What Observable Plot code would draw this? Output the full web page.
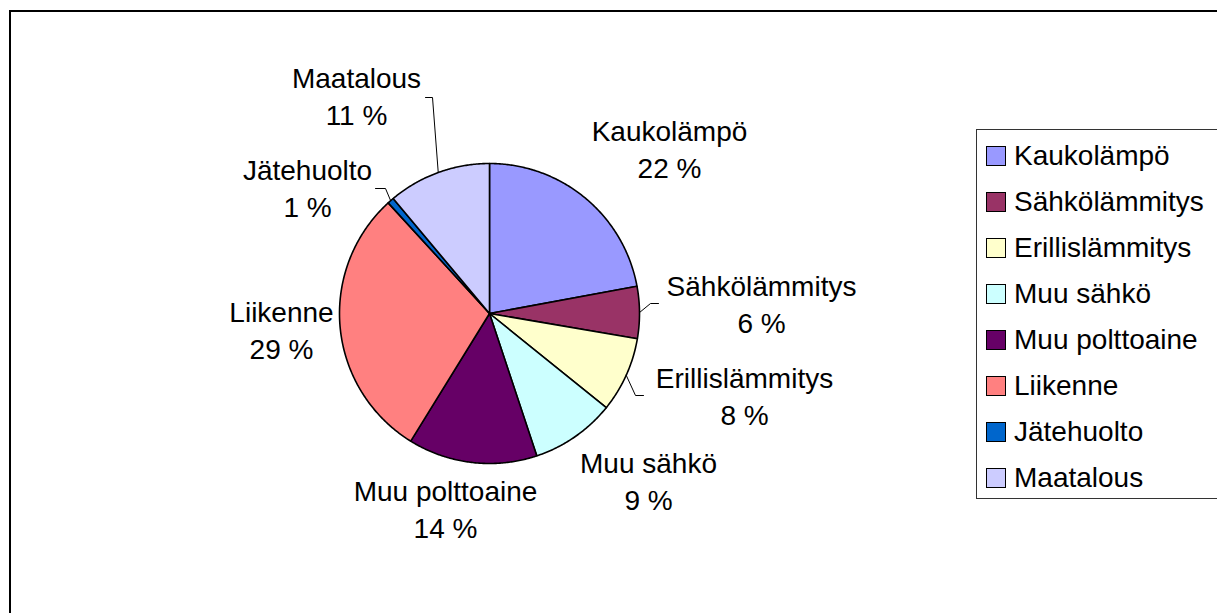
<!DOCTYPE html>
<html>
<head>
<meta charset="utf-8">
<script src="https://cdn.jsdelivr.net/npm/d3@7"></script>
<script src="https://cdn.jsdelivr.net/npm/@observablehq/plot@0.6"></script>
<style>
  html, body { margin: 0; padding: 0; background: #fff; overflow: hidden; }
  body { width: 1217px; height: 613px; position: relative; font-family: "Liberation Sans", Arial, sans-serif; }
  #frame { position: absolute; left: 9px; top: 10px; width: 1300px; height: 700px; border: 2px solid #000; box-sizing: border-box; }
  #chart { position: absolute; left: 0; top: 0; }
  #legend { position: absolute; left: 976px; top: 129px; width: 300px; height: 370px; border: 1px solid #333; box-sizing: border-box; background: #fff; }
  .item { position: absolute; left: 9px; height: 28px; display: flex; align-items: center; font-size: 28px; color: #000; white-space: nowrap; }
  .sw { width: 18px; height: 18px; border: 1.5px solid #000; margin-right: 8px; flex: none; }
</style>
</head>
<body>
<div id="frame"></div>
<div id="chart"></div>
<div id="legend"></div>
<script>
// ---- data ----
const categories = ["Kaukolämpö", "Sähkölämmitys", "Erillislämmitys", "Muu sähkö", "Muu polttoaine", "Liikenne", "Jätehuolto", "Maatalous"];
const shares = [22.1, 5.6, 8.1, 9.1, 13.9, 29.4, 0.7, 11.1];
const percentLabels = ["22 %", "6 %", "8 %", "9 %", "14 %", "29 %", "1 %", "11 %"];
const colors = ["#9999FF", "#993366", "#FFFFCC", "#CCFFFF", "#660066", "#FF8080", "#0066CC", "#CCCCFF"];

// ---- layout (pixels) ----
const W = 1217, H = 613;
const cx = 489, cy = 313, R = 150;
// label block centre, relative to pie centre
const labelOffset = [[180, -166], [272, -11], [255, 81], [159, 166], [-44, 194], [-208, 15], [-182, -127], [-133, -219]];
// leader line start + elbow (relative to pie centre), null = no leader
const leaderElbow = [null, [[169, -10], [161, -10]], [[154, 82], [146, 82]], null, null, null, [[-114, -125], [-104, -125]], [[-64, -216], [-57, -216]]];

const pie = d3.pie().sort(null).value(d => d)(shares);
const pt = (a, r) => ({x: cx + r * Math.sin(a), y: cy - r * Math.cos(a)});

const slicePts = [];
pie.forEach((p, i) => {
  const n = Math.max(2, Math.ceil((p.endAngle - p.startAngle) / (Math.PI / 360)));
  slicePts.push({...pt(0, 0), k: i});
  for (let j = 0; j <= n; j++) {
    const a = p.startAngle + (p.endAngle - p.startAngle) * j / n;
    slicePts.push({...pt(a, R), k: i});
  }
});

const labels = pie.map((p, i) => ({
  x: cx + labelOffset[i][0], y: cy + labelOffset[i][1],
  text: categories[i] + "\n" + percentLabels[i]
}));

const leaders = [];
pie.forEach((p, i) => {
  if (!leaderElbow[i]) return;
  const mid = (p.startAngle + p.endAngle) / 2;
  leaderElbow[i].forEach(([dx, dy]) => leaders.push({x: cx + dx, y: cy + dy, k: i}));
  leaders.push({...pt(mid, R), k: i});
});

const chart = Plot.plot({
  width: W, height: H, margin: 0,
  x: {domain: [0, W], range: [0, W], axis: null},
  y: {domain: [0, H], range: [0, H], axis: null},
  style: {background: "transparent", fontFamily: "'Liberation Sans', Arial, sans-serif"},
  marks: [
    Plot.line(slicePts, {x: "x", y: "y", z: "k", fill: d => colors[d.k], stroke: "#000", strokeWidth: 1.6, curve: "linear-closed"}),
    Plot.line(leaders, {x: "x", y: "y", z: "k", stroke: "#000", strokeWidth: 1}),
    Plot.text(labels, {x: "x", y: "y", text: "text", fontSize: 28, lineHeight: 1.32, fill: "#000", textAnchor: "middle"})
  ]
});
document.getElementById("chart").appendChild(chart);

const legend = document.getElementById("legend");
categories.forEach((c, i) => {
  const item = document.createElement("div");
  item.className = "item";
  item.style.top = (12 + 46 * i) + "px";
  const sw = document.createElement("span");
  sw.className = "sw";
  sw.style.background = colors[i];
  item.appendChild(sw);
  item.appendChild(document.createTextNode(c));
  legend.appendChild(item);
});
</script>
</body>
</html>
